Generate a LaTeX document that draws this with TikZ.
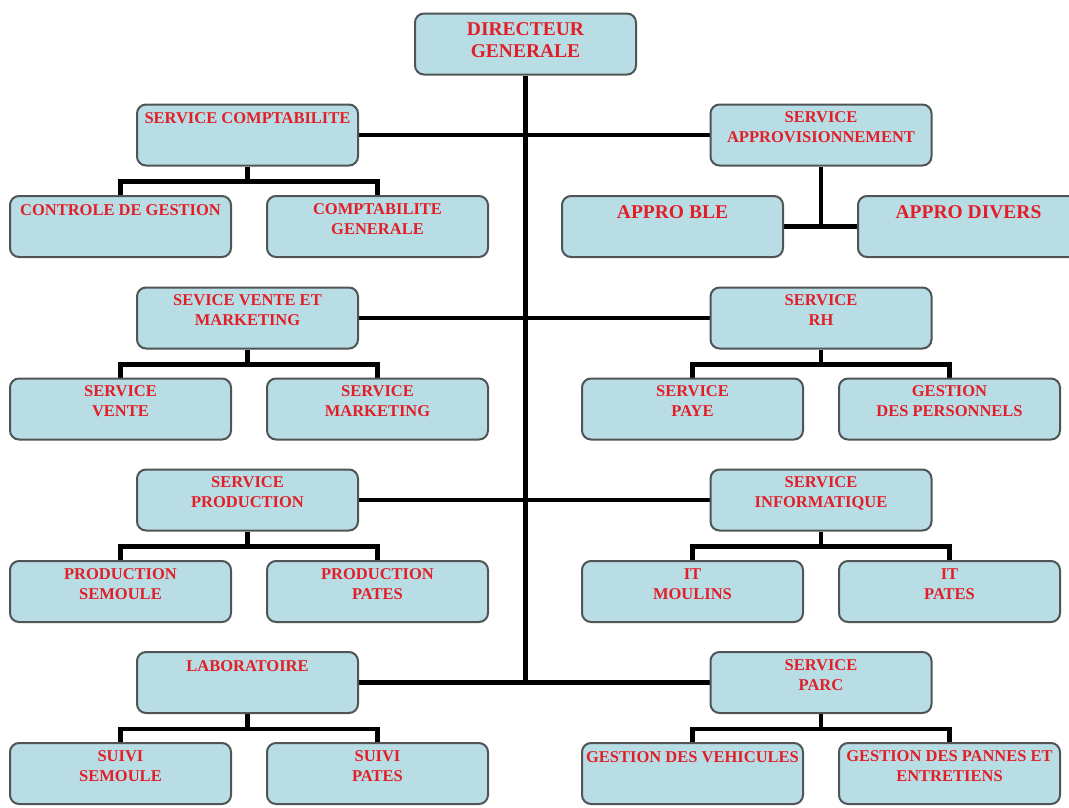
\documentclass[tikz,border=0pt]{standalone}
\usepackage{fontspec}
\setmainfont{Liberation Serif}
\usetikzlibrary{backgrounds}
\definecolor{boxfill}{RGB}{184,221,228}
\definecolor{boxline}{RGB}{80,84,86}
\definecolor{textred}{RGB}{226,30,40}
\tikzset{
  unit/.style={draw=boxline, fill=boxfill, line width=2pt, rounded corners=9pt,
    minimum width=221pt, minimum height=61pt, inner sep=0pt},
  txt/.style={anchor=north, text=textred, align=center, inner sep=0pt,
    font=\fontsize{16.5}{20}\selectfont\bfseries, yshift=-8pt},
  onel/.style={yshift=-1pt},
  big/.style={font=\fontsize{19.5}{22}\selectfont\bfseries},
  conn/.style={line width=4.2pt, line cap=butt, line join=miter},
}
\newcommand{\unitbox}[4][]{%
  \node[unit, label={[txt,#1]north:#4}] (#2) at (#3) {};}
\begin{document}
\begin{tikzpicture}[x=1pt, y=-1pt]
\useasboundingbox (0,0) rectangle (1069,807);
\clip (0,0) rectangle (1069,807);

% boxes
\unitbox[big,yshift=-2pt]{dir}{525.5,44}{DIRECTEUR\\GENERALE}
\unitbox[onel]{comp}{247.5,135}{SERVICE COMPTABILITE}
\unitbox{appro}{821,135}{SERVICE\\APPROVISIONNEMENT}
\unitbox[onel]{ctrl}{120.5,226.5}{CONTROLE DE GESTION}
\unitbox{cgen}{377.5,226.5}{COMPTABILITE\\GENERALE}
\unitbox[big,yshift=-2pt]{ble}{672.5,226.5}{APPRO BLE}
\unitbox[big,yshift=-2pt]{divers}{968.5,226.5}{APPRO DIVERS}

\unitbox{vm}{247.5,318}{SEVICE VENTE ET\\MARKETING}
\unitbox{rh}{821,318}{SERVICE\\RH}
\unitbox{vente}{120.5,409}{SERVICE\\VENTE}
\unitbox{mkt}{377.5,409}{SERVICE\\MARKETING}
\unitbox{paye}{692.5,409}{SERVICE\\PAYE}
\unitbox{gpers}{949.5,409}{GESTION\\DES PERSONNELS}

\unitbox{prod}{247.5,500}{SERVICE\\PRODUCTION}
\unitbox{info}{821,500}{SERVICE\\INFORMATIQUE}
\unitbox{psem}{120.5,591.5}{PRODUCTION\\SEMOULE}
\unitbox{ppat}{377.5,591.5}{PRODUCTION\\PATES}
\unitbox{itm}{692.5,591.5}{IT\\MOULINS}
\unitbox{itp}{949.5,591.5}{IT\\PATES}

\unitbox[onel]{lab}{247.5,682.5}{LABORATOIRE}
\unitbox{parc}{821,682.5}{SERVICE\\PARC}
\unitbox{ssem}{120.5,773.5}{SUIVI\\SEMOULE}
\unitbox{spat}{377.5,773.5}{SUIVI\\PATES}
\unitbox[onel]{gveh}{692.5,773.5}{GESTION DES VEHICULES}
\unitbox{gpan}{949.5,773.5}{GESTION DES PANNES ET\\ENTRETIENS}

% links, drawn behind the boxes
\begin{scope}[on background layer]
  % main trunk and branch lines
  \coordinate (tend) at (dir.south |- lab.east);
  \draw[conn] (dir.south) -- (tend);
  \draw[conn] (comp.east) -- (appro.west);
  \draw[conn] (vm.east) -- (rh.west);
  \draw[conn] (prod.east) -- (info.west);
  \draw[conn] (lab.east) -- (parc.west);

  % supply branch
  \draw[conn] (appro.south) -- (appro.south |- ble.east);
  \draw[conn] (ble.east) -- (divers.west);

  % sub-unit brackets
  \foreach \p/\a/\b in {comp/ctrl/cgen, vm/vente/mkt, rh/paye/gpers,
                        prod/psem/ppat, info/itm/itp, lab/ssem/spat, parc/gveh/gpan}{
    \draw[conn] (\p.south) -- ++(0,15) coordinate (j);
    \draw[conn] (\a.north) |- (j) -| (\b.north);
  }
\end{scope}
\end{tikzpicture}
\end{document}
